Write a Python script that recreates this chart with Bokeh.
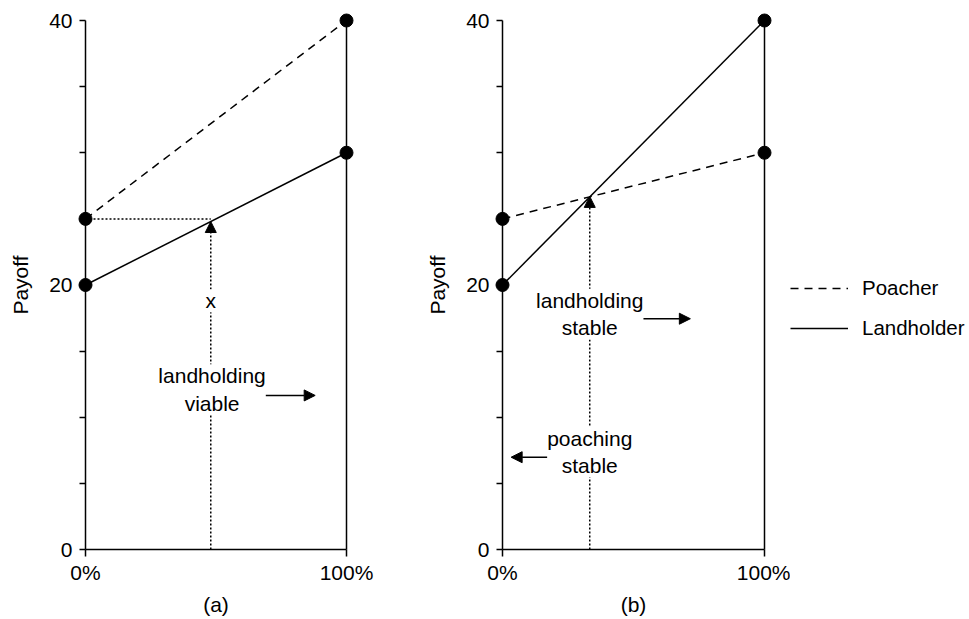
from bokeh.plotting import figure
from bokeh.layouts import row
from bokeh.models import Range1d, FixedTicker, Arrow, NormalHead, Legend, LegendItem
from bokeh.embed import file_html
from bokeh.resources import INLINE
from bokeh.core.properties import value

# ---------------- data ----------------
share = [0, 100]                      # % of landholders (x)
poacher_a = [25, 40]
landholder_a = [20, 30]
poacher_b = [25, 30]
landholder_b = [20, 40]
payoff_max = 40

x_ticks = [0, 100]
x_tick_labels = {0: "0%", 100: "100%"}
y_ticks = [0, 20, 40]
y_minor_ticks = [5, 10, 15, 25, 30, 35]

# panel (a): threshold x where landholder payoff reaches poacher's base payoff
thr_a_x = 48
thr_a_level = 25
thr_a_top = 24.8
# panel (b): crossing point of the two lines
cross_b_x = 33.3
cross_b_y = 26.7

# annotation texts
texts_a = ["x", "landholding\nviable"]
texts_b = ["landholding\nstable", "poaching\nstable"]
legend_labels = ["Poacher", "Landholder"]

FONT = "Liberation Sans"
FS = "21px"
LW = 1.5
H = 619
DASH = "8 6"


def make_panel(width, bl, br, label):
    p = figure(width=width, height=H, x_range=Range1d(0, 100), y_range=Range1d(0, payoff_max),
               output_backend="svg", toolbar_location=None,
               min_border_left=bl, min_border_right=br, min_border_top=20, min_border_bottom=70)
    p.outline_line_color = None
    p.grid.visible = False
    p.background_fill_color = "white"
    p.border_fill_color = "white"

    xa = p.xaxis[0]
    xa.ticker = FixedTicker(ticks=x_ticks)
    xa.major_label_overrides = x_tick_labels
    xa.major_tick_out = 7
    xa.major_tick_in = 0
    xa.minor_tick_out = 0
    xa.minor_tick_in = 0
    xa.major_label_standoff = 4
    xa.axis_label = label
    xa.axis_label_standoff = 6

    ya = p.yaxis[0]
    ya.ticker = FixedTicker(ticks=y_ticks, minor_ticks=y_minor_ticks)
    ya.major_tick_out = 6
    ya.major_tick_in = 0
    ya.minor_tick_out = 6
    ya.minor_tick_in = 0
    ya.major_label_standoff = 7
    ya.axis_label = "Payoff"
    ya.axis_label_standoff = 14

    for ax in (xa, ya):
        ax.axis_line_width = LW
        ax.axis_line_color = "black"
        ax.major_tick_line_width = LW
        ax.minor_tick_line_width = LW
        ax.major_tick_line_color = "black"
        ax.minor_tick_line_color = "black"
        ax.major_label_text_font = FONT
        ax.major_label_text_font_size = FS
        ax.major_label_text_color = "black"
        ax.axis_label_text_font = FONT
        ax.axis_label_text_font_size = FS
        ax.axis_label_text_font_style = "normal"
        ax.axis_label_text_color = "black"

    # right boundary at 100%
    p.line([share[1], share[1]], [0, payoff_max], line_color="black", line_width=LW, level="overlay")
    return p


def head():
    return NormalHead(size=11, fill_color="black", line_color="black", line_width=1)


# ---------------- panel (a) ----------------
pa = make_panel(420, 85, 74, "(a)")
pa.line(share, poacher_a, line_color="black", line_width=LW, line_dash=DASH)
pa.line(share, landholder_a, line_color="black", line_width=LW)
pa.line([share[0], thr_a_x], [thr_a_level, thr_a_level], line_color="black", line_width=LW, line_dash="2 2")
pa.add_layout(Arrow(end=head(), x_start=thr_a_x, y_start=0, x_end=thr_a_x, y_end=thr_a_top,
                    line_color="black", line_width=LW, line_dash="2 2"))
pa.add_layout(Arrow(end=head(), x_start=63.7, y_start=11.65, x_end=88, y_end=11.65,
                    line_color="black", line_width=LW))
pa.text(x=[thr_a_x, 48.5], y=[18.8, 12.1], text=texts_a, text_align="center", text_baseline="middle",
        text_font=value(FONT), text_font_size=FS, text_color="black", text_line_height=1.2,
        background_fill_color="white", level="overlay")
pa.scatter(share * 2, poacher_a + landholder_a, size=13, color="black", level="overlay")

# ---------------- panel (b) ----------------
pb = make_panel(370, 82, 26, "(b)")
pb.line(share, poacher_b, line_color="black", line_width=LW, line_dash=DASH)
pb.line(share, landholder_b, line_color="black", line_width=LW)
pb.add_layout(Arrow(end=head(), x_start=cross_b_x, y_start=0, x_end=cross_b_x, y_end=cross_b_y,
                    line_color="black", line_width=LW, line_dash="2 2"))
pb.add_layout(Arrow(end=head(), x_start=47.2, y_start=17.45, x_end=71.7, y_end=17.45,
                    line_color="black", line_width=LW))
pb.add_layout(Arrow(end=head(), x_start=21.8, y_start=6.98, x_end=3.3, y_end=6.98,
                    line_color="black", line_width=LW))
pb.text(x=[cross_b_x, cross_b_x], y=[17.8, 7.37], text=texts_b, text_align="center", text_baseline="middle",
        text_font=value(FONT), text_font_size=FS, text_color="black", text_line_height=1.2,
        background_fill_color="white", level="overlay")
pb.scatter(share * 2, poacher_b + landholder_b, size=13, color="black", level="overlay")

# ---------------- legend (own small canvas; series lie outside its view) ----------------
pc = figure(width=175, height=H, x_range=Range1d(0, 1), y_range=Range1d(0, 1),
            output_backend="svg", toolbar_location=None,
            x_axis_location=None, y_axis_location=None,
            min_border_left=0, min_border_right=0, min_border_top=0, min_border_bottom=0)
pc.outline_line_color = None
pc.grid.visible = False
l_poach = pc.line(share, poacher_b, line_color="black", line_width=LW, line_dash=DASH)
l_land = pc.line(share, landholder_b, line_color="black", line_width=LW)
legend = Legend(items=[LegendItem(label=legend_labels[0], renderers=[l_poach]),
                       LegendItem(label=legend_labels[1], renderers=[l_land])],
                location=(0, 208), glyph_width=58, glyph_height=26, label_height=26,
                label_standoff=14, spacing=14, padding=0, margin=0,
                label_text_font=FONT, label_text_font_size="20.5px", label_text_color="black",
                border_line_color=None, background_fill_alpha=0)
pc.add_layout(legend)

layout = row(pa, pb, pc)
open("out.html", "w").write(file_html(layout, INLINE))
